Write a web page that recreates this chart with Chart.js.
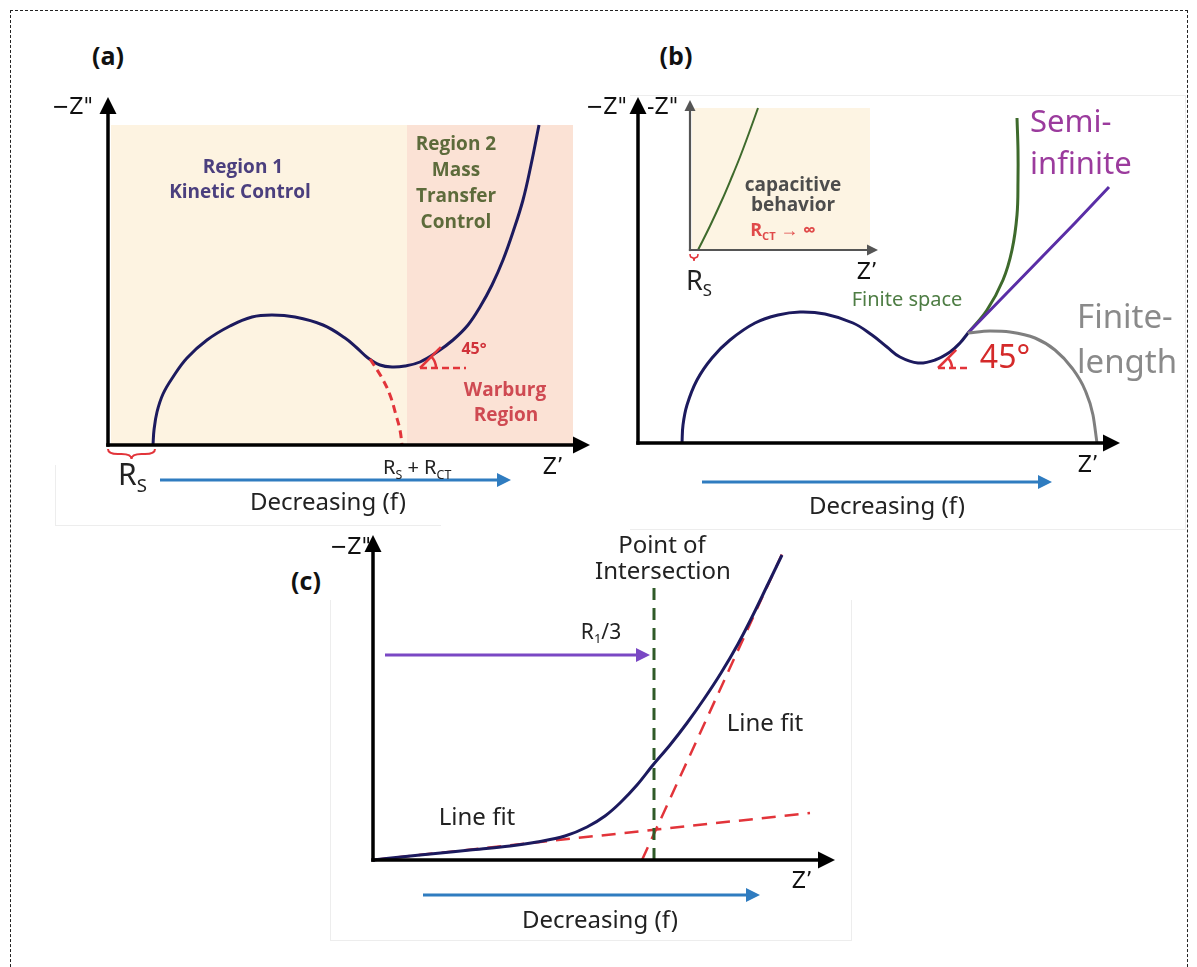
<!DOCTYPE html>
<html>
<head>
<meta charset="utf-8">
<script src="https://cdn.jsdelivr.net/npm/chart.js@4.4.1/dist/chart.umd.min.js"></script>
<style>
  body { margin: 0; background: #fff; }
  #page { position: relative; width: 1197px; height: 967px; overflow: hidden; font-family: "Noto Sans", sans-serif; color: #222; }
  #frame { position: absolute; left: 10px; top: 10px; width: 1176px; height: 1000px; border: 1.5px dashed #222; }
  .box { position: absolute; border: 1px solid #ededed; }
  canvas { position: absolute; }
  .t { position: absolute; white-space: nowrap; transform: translate(-50%, -50%); line-height: 1; }
  .tl { position: absolute; white-space: nowrap; transform: translate(0, -50%); line-height: 1; }
  .pl { font: bold 25px "Open Sans", sans-serif; color: #111; }
  .zz { font: 23px "Liberation Sans Narrow", "DejaVu Sans Condensed", sans-serif; color: #111; }
  .rg { font: bold 19px "Open Sans", sans-serif; }
  .dec { font: 24px "Noto Sans", sans-serif; color: #222; }
  sub { font-size: 62%; vertical-align: -0.35em; }
</style>
</head>
<body>
<div id="page">
  <div id="frame"></div>
  <div class="box" style="left:55px;top:465px;width:385px;height:60px;border-top:none;border-right:none;"></div>
  <div class="box" style="left:630px;top:95px;width:555px;height:433px;border-left:none;"></div>
  <div class="box" style="left:330px;top:600px;width:520px;height:340px;border-top:none;"></div>
</div>
<script>
// ---- panel (a): semicircle + Warburg tail
const aZre = [4.5, 4.6, 4.9, 5.5, 6.5, 7.9, 9.9, 12.2, 14.4, 16.4, 18.7, 21.5, 23.7, 24.9, 26.0, 27.2, 28.4, 29.7, 31.2, 32.9, 34.5, 36.0, 37.2, 38.4, 39.5, 40.5, 41.5, 42.3, 43.1];
const aZim = [0, 1.5, 3.3, 5.1, 6.8, 8.7, 10.5, 11.9, 12.8, 13.0, 12.8, 12.0, 10.7, 9.7, 8.7, 8.0, 7.8, 7.9, 8.3, 9.3, 10.5, 12.0, 13.8, 16.0, 18.5, 21.3, 24.5, 28.0, 32.0];
const aArcZre = [26.2, 27.4, 28.2, 28.8, 29.2, 29.4];
const aArcZim = [8.6, 6.7, 5.0, 3.0, 1.5, 0];
const aKineticZone = [0.3, 29.9];   // Z' range, region 1
const aMassZone = [29.9, 46.5];     // Z' range, region 2
const aZoneTop = 32.0;

// ---- panel (b): three diffusion cases after the arc
const bZre = [4.4, 4.5, 4.9, 5.9, 7.4, 9.2, 11.7, 14.0, 16.2, 18.7, 21.5, 23.4, 24.9, 26.2, 28.0, 29.7, 31.2, 32.2, 33.0];
const bZim = [0, 1.8, 3.8, 6.3, 8.5, 10.3, 12.0, 12.8, 13.1, 12.9, 12.0, 10.8, 9.6, 8.6, 8.0, 8.3, 9.1, 10.0, 11.0];
const finiteSpaceZre = [33.0, 34.9, 36.5, 37.4, 37.9, 38.0, 38.0, 37.9];
const finiteSpaceZim = [11.0, 13.3, 16.3, 19.3, 22.8, 26.3, 29.3, 32.5];
const semiInfZre = [33.0, 36.6, 40.2, 43.7, 47.1];
const semiInfZim = [11.0, 14.7, 18.4, 22.0, 25.6];
const finiteLenZre = [33.0, 35.2, 37.2, 39.7, 41.7, 43.4, 44.7, 45.5, 45.9];
const finiteLenZim = [11.0, 11.2, 11.1, 10.5, 9.3, 7.5, 5.3, 2.8, 0];
// inset: blocking electrode
const capZre = [0.8, 2.0, 3.2, 4.1, 5.0, 5.9, 6.8];
const capZim = [0, 2.4, 5.0, 7.1, 9.3, 11.7, 14.2];
const capZone = [0.2, 18.0];
const capZoneTop = 14.2;

// ---- panel (c): two line fits and their intersection
const cZre = [0, 4.7, 9.7, 13.7, 16.4, 19.2, 21.4, 23.2, 24.7, 26.4, 28.0, 29.7, 31.4, 33.1, 34.8, 36.5, 38.1, 39.5, 40.9];
const cZim = [0, 0.5, 1.0, 1.4, 1.8, 2.4, 3.3, 4.4, 5.7, 7.5, 9.5, 11.5, 13.7, 16.1, 18.7, 21.6, 24.7, 27.6, 30.5];
const fitLowZre = [0, 43.7];
const fitLowZim = [0, 4.7];
const fitHighZre = [26.9, 41.0];
const fitHighZim = [0, 30.8];
const crossZre = [28.1, 28.1];
const crossZim = [0, 27.2];

const NAVY = '#1c1a5e', RED = '#e2343a', BLUE = '#2f7cc0';

function pts(xs, ys) { return xs.map((v, i) => ({ x: v, y: ys[i] })); }
function curve(xs, ys, color, extra) {
  return Object.assign({ data: pts(xs, ys), showLine: true, borderColor: color, borderWidth: 3,
    pointRadius: 0, tension: 0.4, fill: false, clip: false }, extra || {});
}

function arrow(ctx, x0, y0, x1, y1, color, w, head) {
  const ang = Math.atan2(y1 - y0, x1 - x0);
  ctx.strokeStyle = color; ctx.fillStyle = color; ctx.lineWidth = w; ctx.setLineDash([]);
  ctx.beginPath(); ctx.moveTo(x0, y0);
  ctx.lineTo(x1 - Math.cos(ang) * head * 0.8, y1 - Math.sin(ang) * head * 0.8); ctx.stroke();
  ctx.beginPath(); ctx.moveTo(x1, y1);
  ctx.lineTo(x1 - head * Math.cos(ang) + head * 0.5 * Math.sin(ang), y1 - head * Math.sin(ang) - head * 0.5 * Math.cos(ang));
  ctx.lineTo(x1 - head * Math.cos(ang) - head * 0.5 * Math.sin(ang), y1 - head * Math.sin(ang) + head * 0.5 * Math.cos(ang));
  ctx.closePath(); ctx.fill();
}

const decorPlugin = {
  id: 'decor',
  beforeDatasetsDraw(chart, args, o) {
    const { ctx, scales: { x, y } } = chart;
    ctx.save();
    (o.zones || []).forEach(z => {
      const l = x.getPixelForValue(z.x0), r = x.getPixelForValue(z.x1);
      const t = y.getPixelForValue(z.top), b = y.getPixelForValue(0);
      ctx.fillStyle = z.color; ctx.fillRect(l, t, r - l, b - t);
    });
    ctx.restore();
  },
  afterDatasetsDraw(chart, args, o) {
    const { ctx, scales: { x, y } } = chart;
    ctx.save();
    // axes
    const ox = x.getPixelForValue(0), oy = y.getPixelForValue(0);
    arrow(ctx, ox - o.axisW / 2, oy, x.getPixelForValue(x.max), oy, o.axisColor, o.axisW, o.head);
    arrow(ctx, ox, oy + o.axisW / 2, ox, y.getPixelForValue(y.max), o.axisColor, o.axisW, o.head);
    // frequency / guide arrows
    (o.arrows || []).forEach(a => arrow(ctx, x.getPixelForValue(a.x0), y.getPixelForValue(a.y),
      x.getPixelForValue(a.x1), y.getPixelForValue(a.y), a.color, a.w, a.head));
    // R_S braces under the axis
    (o.braces || []).forEach(b => {
      const l = x.getPixelForValue(b.x0), r = x.getPixelForValue(b.x1), m = (l + r) / 2;
      const t = oy + 4, d = b.depth, k = Math.min(d, (r - l) / 4);
      ctx.strokeStyle = RED; ctx.lineWidth = b.w; ctx.setLineDash([]);
      ctx.beginPath(); ctx.moveTo(l, t);
      ctx.quadraticCurveTo(l, t + d / 2, l + k, t + d / 2);
      ctx.lineTo(m - k, t + d / 2);
      ctx.quadraticCurveTo(m, t + d / 2, m, t + d);
      ctx.quadraticCurveTo(m, t + d / 2, m + k, t + d / 2);
      ctx.lineTo(r - k, t + d / 2);
      ctx.quadraticCurveTo(r, t + d / 2, r, t);
      ctx.stroke();
    });
    // 45 degree markers
    (o.angles || []).forEach(a => {
      const cx = x.getPixelForValue(a.x), cy = y.getPixelForValue(a.y);
      ctx.strokeStyle = RED; ctx.lineWidth = a.w;
      ctx.setLineDash([7, 4]);
      ctx.beginPath(); ctx.moveTo(cx, cy); ctx.lineTo(cx + a.len, cy); ctx.stroke();
      ctx.setLineDash([]);
      ctx.beginPath(); ctx.moveTo(cx, cy); ctx.lineTo(cx + a.r * 1.3, cy - a.r * 1.3); ctx.stroke();
      ctx.beginPath(); ctx.arc(cx, cy, a.r, -Math.PI / 4, 0); ctx.stroke();
    });
    ctx.restore();
  }
};

function makePanel(box, pad, xMax, yMax, datasets, decor) {
  const c = document.createElement('canvas');
  c.width = box.w; c.height = box.h;
  c.style.left = box.x + 'px'; c.style.top = box.y + 'px';
  document.getElementById('page').appendChild(c);
  return new Chart(c, {
    type: 'scatter',
    data: { datasets },
    options: {
      responsive: false, animation: false, events: [],
      layout: { padding: pad },
      scales: {
        x: { type: 'linear', display: false, min: 0, max: xMax },
        y: { type: 'linear', display: false, min: 0, max: yMax }
      },
      plugins: { legend: { display: false }, tooltip: { enabled: false }, decor }
    },
    plugins: [decorPlugin]
  });
}

// (a)
makePanel({ x: 80, y: 80, w: 540, h: 420 }, { left: 28, right: 30, top: 17, bottom: 55 }, 48.2, 34.8, [
  curve(aArcZre, aArcZim, RED, { borderDash: [8, 5], borderWidth: 3 }),
  curve(aZre, aZim, NAVY)
], {
  axisColor: '#000', axisW: 3.5, head: 17,
  zones: [
    { x0: aKineticZone[0], x1: aKineticZone[1], top: aZoneTop, color: '#fdf3e1' },
    { x0: aMassZone[0], x1: aMassZone[1], top: aZoneTop, color: '#fbe2d5' }
  ],
  arrows: [{ x0: 5.2, x1: 40.3, y: -3.5, color: BLUE, w: 3, head: 14 }],
  braces: [{ x0: 0, x1: 4.7, depth: 10, w: 2 }],
  angles: [{ x: 31.2, y: 7.7, len: 46, r: 16, w: 2.5 }]
});

// (b)
makePanel({ x: 590, y: 80, w: 560, h: 420 }, { left: 48, right: 30, top: 17, bottom: 57 }, 48.2, 34.6, [
  curve(finiteLenZre, finiteLenZim, '#7f7f7f', { cubicInterpolationMode: 'monotone' }),
  curve(semiInfZre, semiInfZim, '#5a2ea6', { tension: 0 }),
  curve(finiteSpaceZre, finiteSpaceZim, '#3e6a2c'),
  curve(bZre, bZim, NAVY)
], {
  axisColor: '#000', axisW: 3.5, head: 17,
  arrows: [{ x0: 6.4, x1: 41.4, y: -3.9, color: BLUE, w: 3, head: 14 }],
  angles: [{ x: 30.0, y: 7.5, len: 30, r: 14, w: 2.5 }]
});

// (b) inset
makePanel({ x: 670, y: 85, w: 230, h: 185 }, { left: 20, right: 22, top: 15, bottom: 20 }, 18.8, 15, [
  curve(capZre, capZim, '#3e6a2c', { borderWidth: 2 })
], {
  axisColor: '#555', axisW: 2.2, head: 11,
  zones: [{ x0: capZone[0], x1: capZone[1], top: capZoneTop, color: '#fdf4e3' }],
  braces: [{ x0: 0, x1: 0.8, depth: 7, w: 1.5 }]
});

// (c)
makePanel({ x: 340, y: 520, w: 520, h: 400 }, { left: 33, right: 25, top: 15, bottom: 60 }, 46.2, 32.5, [
  curve(crossZre, crossZim, '#2f5a28', { borderDash: [12, 8], borderWidth: 3, tension: 0 }),
  curve(cZre, cZim, NAVY, { cubicInterpolationMode: 'monotone' }),
  curve(fitLowZre, fitLowZim, RED, { borderDash: [14, 9], borderWidth: 2.5, tension: 0 }),
  curve(fitHighZre, fitHighZim, RED, { borderDash: [14, 9], borderWidth: 2.5, tension: 0 })
], {
  axisColor: '#000', axisW: 3.5, head: 17,
  arrows: [
    { x0: 5.0, x1: 38.7, y: -3.5, color: BLUE, w: 3, head: 14 },
    { x0: 1.2, x1: 27.7, y: 20.5, color: '#7a48c4', w: 3, head: 14 }
  ]
});

// text
const labels = [
  ['(a)', 108, 55, 'pl', 't'],
  ['&minus;Z"', 52, 106, 'zz', 'tl'],
  ['Region 1', 243, 166, 'rg', 't', 'color:#4b3f7e'],
  ['Kinetic Control', 240, 191, 'rg', 't', 'color:#4b3f7e'],
  ['Region 2', 456, 143, 'rg', 't', 'color:#5d6b3b'],
  ['Mass', 456, 169, 'rg', 't', 'color:#5d6b3b'],
  ['Transfer', 456, 195, 'rg', 't', 'color:#5d6b3b'],
  ['Control', 456, 221, 'rg', 't', 'color:#5d6b3b'],
  ['45°', 474, 348, 'rg', 't', 'color:#d0323a;font-size:16px'],
  ['Warburg', 505, 389, 'rg', 't', 'color:#cf4a52'],
  ['Region', 506, 414, 'rg', 't', 'color:#cf4a52'],
  ['R<sub>S</sub> + R<sub>CT</sub>', 383, 468, 'dec', 'tl', 'font-size:20px'],
  ['Z’', 553, 466, 'zz', 't'],
  ['R<sub>S</sub>', 118, 475, 'dec', 'tl', 'font-size:30px'],
  ['Decreasing (f)', 328, 500, 'dec', 't'],

  ['(b)', 676, 55, 'pl', 't'],
  ['&minus;Z"', 586, 106, 'zz', 'tl'],
  ['-Z"', 647, 106, 'zz', 'tl'],
  ['capacitive', 793, 184, 'rg', 't', 'color:#4d4d4d;font-size:19px'],
  ['behavior', 793, 204, 'rg', 't', 'color:#4d4d4d;font-size:19px'],
  ['R<sub>CT</sub> &rarr; &infin;', 783, 230, 'rg', 't', 'color:#e04a4a;font-size:18px'],
  ['Z’', 867, 271, 'zz', 't'],
  ['R<sub>S</sub>', 686, 281, 'dec', 'tl', 'font-size:27px'],
  ['Finite space', 907, 298, 'dec', 't', 'color:#4e7d44;font-size:20px'],
  ['Semi-', 1030, 120, 'dec', 'tl', 'color:#9b3b9d;font-size:31px'],
  ['infinite', 1030, 162, 'dec', 'tl', 'color:#9b3b9d;font-size:31px'],
  ['Finite-', 1077, 315, 'dec', 'tl', 'color:#8a8a8a;font-size:33px'],
  ['length', 1077, 360, 'dec', 'tl', 'color:#8a8a8a;font-size:33px'],
  ['45°', 1005, 355, 'dec', 't', 'color:#d42a2a;font-size:32px'],
  ['Z’', 1088, 464, 'zz', 't'],
  ['Decreasing (f)', 887, 504, 'dec', 't'],

  ['(c)', 306, 580, 'pl', 't'],
  ['&minus;Z"', 330, 546, 'zz', 'tl'],
  ['Point of', 662, 543, 'dec', 't'],
  ['Intersection', 663, 569, 'dec', 't'],
  ['R<sub>1</sub>/3', 601, 632, 'dec', 't', 'font-size:21px'],
  ['Line fit', 765, 721, 'dec', 't'],
  ['Line fit', 477, 815, 'dec', 't'],
  ['Z’', 802, 880, 'zz', 't'],
  ['Decreasing (f)', 600, 918, 'dec', 't']
];
const page = document.getElementById('page');
labels.forEach(([html, x, y, cls, anchor, style]) => {
  const d = document.createElement('div');
  d.className = anchor + ' ' + cls;
  d.innerHTML = html;
  d.style.left = x + 'px'; d.style.top = y + 'px';
  if (style) d.style.cssText += ';' + style;
  page.appendChild(d);
});
</script>
</body>
</html>
